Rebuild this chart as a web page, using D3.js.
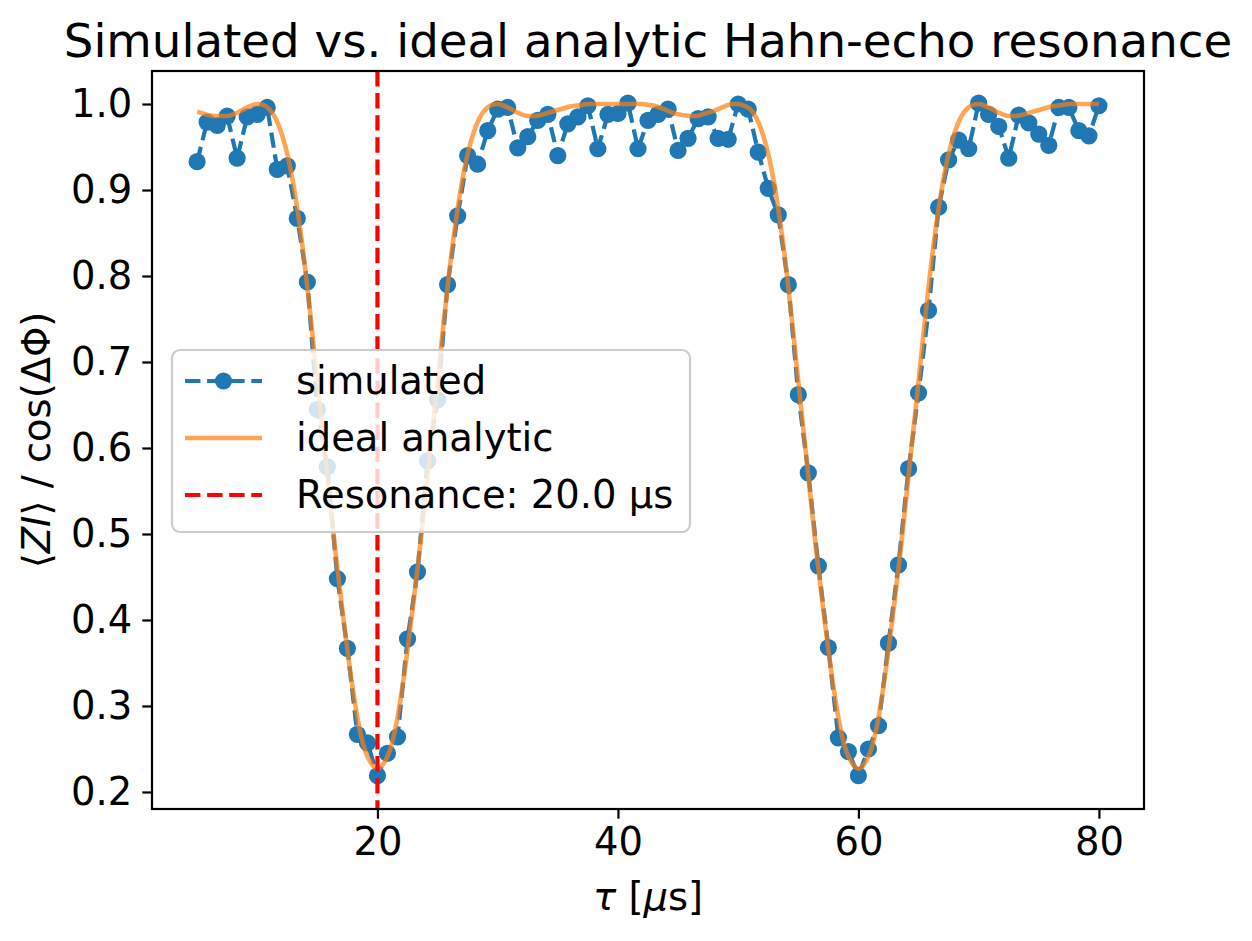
<!DOCTYPE html>
<html>
<head>
<meta charset="utf-8">
<script src="https://d3js.org/d3.v7.min.js"></script>
<style>
  body { margin: 0; background: #ffffff; }
  text { font-family: "DejaVu Sans", sans-serif; }
</style>
</head>
<body>
<div id="chart"></div>

<script>

    // simulated points, tau in microseconds
    var tauSim = [
        5.00, 5.83, 6.67, 7.50, 8.33, 9.17, 10.00, 10.83, 11.67, 12.50,
        13.33, 14.17, 15.00, 15.83, 16.67, 17.50, 18.33, 19.17, 20.00, 20.83,
        21.67, 22.50, 23.33, 24.17, 25.00, 25.83, 26.67, 27.50, 28.33, 29.17,
        30.00, 30.83, 31.67, 32.50, 33.33, 34.17, 35.00, 35.83, 36.67, 37.50,
        38.33, 39.17, 40.00, 40.83, 41.67, 42.50, 43.33, 44.17, 45.00, 45.83,
        46.67, 47.50, 48.33, 49.17, 50.00, 50.83, 51.67, 52.50, 53.33, 54.17,
        55.00, 55.83, 56.67, 57.50, 58.33, 59.17, 60.00, 60.83, 61.67, 62.50,
        63.33, 64.17, 65.00, 65.83, 66.67, 67.50, 68.33, 69.17, 70.00, 70.83,
        71.67, 72.50, 73.33, 74.17, 75.00, 75.83, 76.67, 77.50, 78.33, 79.17,
        80.00
    ];
    var zSim = [
        0.933, 0.979, 0.975, 0.986, 0.937, 0.985, 0.988, 0.996, 0.924, 0.928,
        0.867, 0.793, 0.645, 0.578, 0.448, 0.367, 0.267, 0.257, 0.219, 0.245,
        0.264, 0.378, 0.456, 0.585, 0.656, 0.790, 0.870, 0.940, 0.930, 0.969,
        0.994, 0.996, 0.949, 0.962, 0.981, 0.988, 0.940, 0.977, 0.985, 0.998,
        0.948, 0.988, 0.989, 1.001, 0.948, 0.981, 0.988, 0.994, 0.946, 0.960,
        0.983, 0.985, 0.960, 0.959, 1.000, 0.994, 0.944, 0.902, 0.871, 0.790,
        0.662, 0.571, 0.463, 0.368, 0.263, 0.247, 0.219, 0.250, 0.277, 0.373,
        0.464, 0.576, 0.664, 0.760, 0.880, 0.935, 0.958, 0.948, 1.001, 0.988,
        0.974, 0.937, 0.987, 0.978, 0.965, 0.952, 0.996, 0.996, 0.969, 0.963,
        0.998
    ];

    var tauIdeal = [
        5.0, 5.5, 6.0, 6.5, 7.0, 7.5, 8.0, 8.5, 9.0, 9.5,
        10.0, 10.5, 11.0, 11.5, 12.0, 12.5, 13.0, 13.5, 14.0, 14.5,
        15.0, 15.5, 16.0, 16.5, 17.0, 17.5, 18.0, 18.5, 19.0, 19.5,
        20.0, 20.5, 21.0, 21.5, 22.0, 22.5, 23.0, 23.5, 24.0, 24.5,
        25.0, 25.5, 26.0, 26.5, 27.0, 27.5, 28.0, 28.5, 29.0, 29.5,
        30.0, 30.5, 31.0, 31.5, 32.0, 32.5, 33.0, 33.5, 34.0, 34.5,
        35.0, 35.5, 36.0, 36.5, 37.0, 37.5, 38.0, 38.5, 39.0, 39.5,
        40.0, 40.5, 41.0, 41.5, 42.0, 42.5, 43.0, 43.5, 44.0, 44.5,
        45.0, 45.5, 46.0, 46.5, 47.0, 47.5, 48.0, 48.5, 49.0, 49.5,
        50.0, 50.5, 51.0, 51.5, 52.0, 52.5, 53.0, 53.5, 54.0, 54.5,
        55.0, 55.5, 56.0, 56.5, 57.0, 57.5, 58.0, 58.5, 59.0, 59.5,
        60.0, 60.5, 61.0, 61.5, 62.0, 62.5, 63.0, 63.5, 64.0, 64.5,
        65.0, 65.5, 66.0, 66.5, 67.0, 67.5, 68.0, 68.5, 69.0, 69.5,
        70.0, 70.5, 71.0, 71.5, 72.0, 72.5, 73.0, 73.5, 74.0, 74.5,
        75.0, 75.5, 76.0, 76.5, 77.0, 77.5, 78.0, 78.5, 79.0, 79.5,
        80.0
    ];
    var zIdeal = [
        0.991, 0.989, 0.987, 0.986, 0.986, 0.986, 0.988, 0.991, 0.995, 0.998,
        1.000, 0.999, 0.994, 0.984, 0.967, 0.942, 0.907, 0.862, 0.808, 0.745,
        0.677, 0.612, 0.545, 0.480, 0.421, 0.365, 0.315, 0.274, 0.247, 0.233,
        0.227, 0.233, 0.247, 0.274, 0.315, 0.365, 0.421, 0.480, 0.545, 0.612,
        0.677, 0.745, 0.808, 0.862, 0.907, 0.942, 0.967, 0.984, 0.994, 0.999,
        1.000, 0.998, 0.995, 0.991, 0.988, 0.986, 0.986, 0.987, 0.989, 0.991,
        0.993, 0.995, 0.997, 0.998, 0.999, 1.000, 1.000, 1.000, 1.000, 1.000,
        1.000, 1.000, 1.000, 1.000, 1.000, 0.999, 0.998, 0.996, 0.993, 0.990,
        0.988, 0.987, 0.986, 0.986, 0.988, 0.990, 0.992, 0.995, 0.998, 1.000,
        1.000, 0.998, 0.994, 0.984, 0.967, 0.942, 0.907, 0.862, 0.808, 0.745,
        0.677, 0.612, 0.545, 0.480, 0.421, 0.365, 0.315, 0.274, 0.247, 0.233,
        0.227, 0.233, 0.247, 0.274, 0.315, 0.365, 0.421, 0.480, 0.545, 0.612,
        0.677, 0.745, 0.808, 0.862, 0.907, 0.942, 0.967, 0.984, 0.994, 0.999,
        1.000, 0.998, 0.995, 0.991, 0.988, 0.986, 0.986, 0.987, 0.989, 0.991,
        0.993, 0.995, 0.997, 0.998, 0.999, 1.000, 1.000, 1.000, 1.000, 1.000,
        1.000
    ];

    var resonanceTau = 20.0;

    var xTicks = [20, 40, 60, 80];
    var yTicks = [0.2, 0.3, 0.4, 0.5, 0.6, 0.7, 0.8, 0.9, 1.0];

    var legendLabels = ['simulated', 'ideal analytic', 'Resonance: 20.0 \u00b5s'];

    var blue = '#1f77b4';
    var orange = '#ff7f0e';

    var width = 1252;
    var height = 941;
    // plot frame in pixels (note: "top" is reserved on window)
    var axLeft = 152, axRight = 1144, axTop = 71, axBottom = 809;
    var fontSize = 38.5;

    var svg = d3.select('#chart').append('svg')
        .attr('width', width)
        .attr('height', height);

    var x = d3.scaleLinear()
        .domain([1.25, 83.75])
        .range([axLeft, axRight]);

    var y = d3.scaleLinear()
        .domain([0.1802, 1.0384])
        .range([axBottom, axTop]);

    var plot = svg.append('g');

    plot.append('clipPath')
        .attr('id', 'clip')
        .append('rect')
        .attr('x', axLeft).attr('y', axTop)
        .attr('width', axRight - axLeft).attr('height', axBottom - axTop);

    var sim = tauSim.map(function(t, i) { return { t: t, z: zSim[i] }; });
    var ideal = tauIdeal.map(function(t, i) { return { t: t, z: zIdeal[i] }; });

    var simLine = d3.line()
        .x(function(d) { return x(d.t); })
        .y(function(d) { return y(d.z); });

    var idealLine = d3.line()
        .curve(d3.curveMonotoneX)
        .x(function(d) { return x(d.t); })
        .y(function(d) { return y(d.z); });

    var inner = plot.append('g').attr('clip-path', 'url(#clip)');

    // simulated: dashed line with circle markers
    inner.append('path')
        .datum(sim)
        .attr('d', simLine)
        .attr('fill', 'none')
        .attr('stroke', blue)
        .attr('stroke-width', 4.2)
        .attr('stroke-dasharray', '15.4,6.7');

    inner.selectAll('circle.sim')
        .data(sim)
        .enter()
        .append('circle')
        .attr('class', 'sim')
        .attr('cx', function(d) { return x(d.t); })
        .attr('cy', function(d) { return y(d.z); })
        .attr('r', 8.6)
        .attr('fill', blue);

    inner.append('path')
        .datum(ideal)
        .attr('d', idealLine)
        .attr('fill', 'none')
        .attr('stroke', orange)
        .attr('stroke-opacity', 0.7)
        .attr('stroke-width', 4.6);

    inner.append('line')
        .attr('x1', x(resonanceTau)).attr('x2', x(resonanceTau))
        .attr('y1', axTop).attr('y2', axBottom)
        .attr('stroke', 'red')
        .attr('stroke-width', 4.2)
        .attr('stroke-dasharray', '15.4,6.7');

    // axes
    var xAxis = d3.axisBottom(x)
        .tickValues(xTicks)
        .tickSize(9.7)
        .tickSizeOuter(0)
        .tickPadding(9)
        .tickFormat(d3.format('d'));

    var yAxis = d3.axisLeft(y)
        .tickValues(yTicks)
        .tickSize(9.7)
        .tickSizeOuter(0)
        .tickPadding(10)
        .tickFormat(d3.format('.1f'));

    var gx = svg.append('g')
        .attr('transform', 'translate(0,' + axBottom + ')')
        .call(xAxis);

    var gy = svg.append('g')
        .attr('transform', 'translate(' + axLeft + ',0)')
        .call(yAxis);

    [gx, gy].forEach(function(g) {
        g.select('.domain').remove();
        g.selectAll('.tick line').attr('stroke', '#000').attr('stroke-width', 2.2);
        g.selectAll('.tick text')
            .attr('fill', '#000')
            .attr('font-size', fontSize)
            .attr('font-family', 'DejaVu Sans');
    });
    gx.selectAll('.tick text').attr('dy', '0.72em');

    svg.append('rect')
        .attr('x', axLeft).attr('y', axTop)
        .attr('width', axRight - axLeft).attr('height', axBottom - axTop)
        .attr('fill', 'none')
        .attr('stroke', '#000')
        .attr('stroke-width', 2.2);

    // title and axis labels
    svg.append('text')
        .attr('x', (axLeft + axRight) / 2)
        .attr('y', 57)
        .attr('text-anchor', 'middle')
        .attr('font-size', 46.7)
        .text('Simulated vs. ideal analytic Hahn-echo resonance');

    var xl = svg.append('text')
        .attr('x', (axLeft + axRight) / 2)
        .attr('y', 910)
        .attr('text-anchor', 'middle')
        .attr('font-size', fontSize);
    xl.append('tspan').attr('font-style', 'italic').text('\u03c4');
    xl.append('tspan').text(' [');
    xl.append('tspan').attr('font-style', 'italic').text('\u03bc');
    xl.append('tspan').text('s]');

    var yl = svg.append('text')
        .attr('transform', 'translate(50,440) rotate(-90)')
        .attr('text-anchor', 'middle')
        .attr('font-size', fontSize);
    yl.append('tspan').text('\u27e8');
    yl.append('tspan').attr('font-style', 'italic').text('ZI');
    yl.append('tspan').text('\u27e9 / cos(\u0394\u03a6)');

    // legend
    var legend = svg.append('g').attr('class', 'legend');

    legend.append('rect')
        .attr('x', 172).attr('y', 350)
        .attr('width', 518).attr('height', 182)
        .attr('rx', 8).attr('ry', 8)
        .attr('fill', '#fff')
        .attr('fill-opacity', 0.8)
        .attr('stroke', '#cccccc')
        .attr('stroke-width', 2.2);

    var legendEntries = legend.selectAll('g.legend-entry')
        .data(legendLabels)
        .enter()
        .append('g')
        .attr('class', 'legend-entry')
        .attr('transform', function(d, i) { return 'translate(185,' + (381 + i * 57) + ')'; });

    legendEntries.append('line')
        .attr('x1', 0).attr('x2', 77)
        .attr('stroke', function(d, i) { return [blue, orange, 'red'][i]; })
        .attr('stroke-opacity', function(d, i) { return i === 1 ? 0.7 : 1; })
        .attr('stroke-width', function(d, i) { return i === 1 ? 4.6 : 4.2; })
        .attr('stroke-dasharray', function(d, i) { return i === 1 ? null : '15.4,6.7'; });

    legendEntries.filter(function(d, i) { return i === 0; })
        .append('circle')
        .attr('cx', 38.5)
        .attr('r', 8.6)
        .attr('fill', blue);

    legendEntries.append('text')
        .attr('x', 111)
        .attr('dy', '0.35em')
        .attr('font-size', fontSize)
        .attr('fill', '#000')
        .text(function(d) { return d; });

</script>
</body>
</html>
